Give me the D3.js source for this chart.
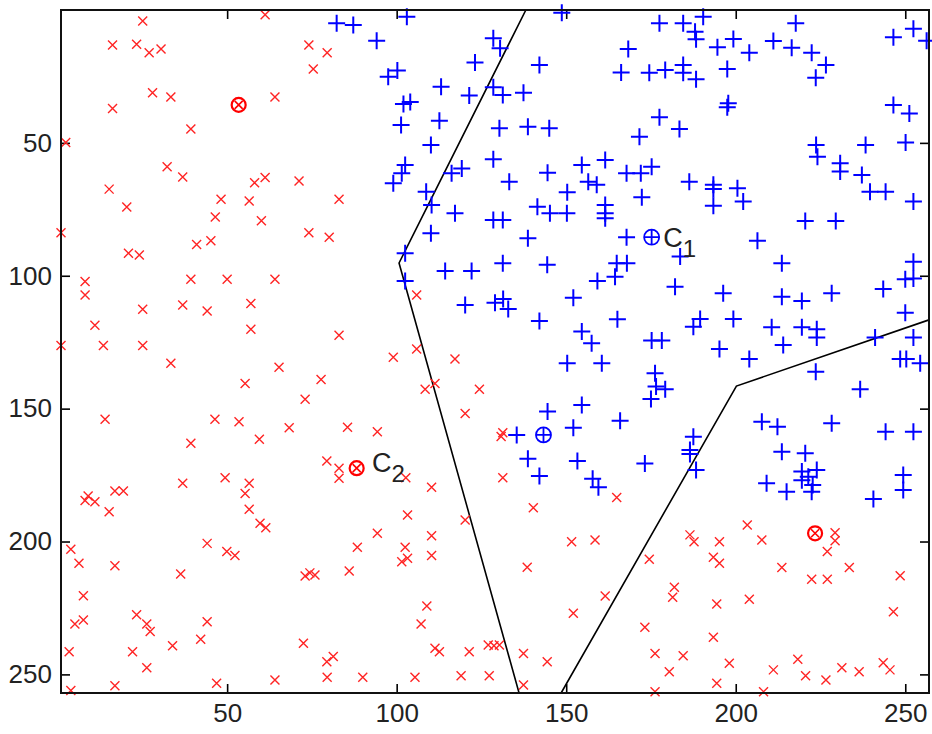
<!DOCTYPE html>
<html>
<head>
<meta charset="utf-8">
<script src="https://cdn.jsdelivr.net/npm/d3@7"></script>
<style>
  body { margin: 0; background: #fff; }
</style>
</head>
<body>
<div id="chart"></div>
<script>
// class 2 samples (red x)
const redPoints = [
  [25.1,4.1],[16.2,13.2],[23.3,12.9],[27.0,16.1],[30.5,14.7],[61.2,1.8],[74.1,13.2],[75.4,22.2],[28.0,31.1],[33.4,32.7],
  [16.2,37.1],[64.1,32.7],[39.3,44.8],[2.4,49.9],[32.3,59.0],[36.9,62.8],[15.2,67.4],[20.4,74.1],[48.2,71.2],[56.5,71.9],
  [58.1,65.0],[61.2,63.0],[71.2,64.3],[46.5,77.9],[60.1,79.3],[1.0,83.8],[74.1,83.8],[41.0,88.2],[45.2,86.8],[20.9,91.5],
  [24.1,92.2],[8.1,102.2],[8.1,107.2],[39.3,101.3],[50.0,101.3],[64.1,101.3],[25.1,112.6],[36.9,111.0],[44.1,113.3],[57.0,110.4],
  [57.0,120.1],[11.0,118.6],[1.0,126.2],[13.5,126.2],[25.1,126.2],[33.4,132.9],[65.3,134.4],[55.3,140.5],[77.7,139.0],[73.0,146.5],
  [14.0,154.0],[46.4,154.0],[53.5,154.9],[68.3,157.2],[59.5,161.5],[39.3,163.0],[36.9,178.1],[49.4,176.0],[56.5,178.1],[55.3,181.9],
  [9.0,182.9],[8.1,184.6],[11.0,185.0],[16.9,181.0],[19.4,181.0],[56.5,187.9],[59.7,193.1],[61.4,194.8],[15.2,188.8],[3.9,202.9],
  [6.3,208.2],[16.9,209.1],[7.6,220.4],[5.1,231.0],[7.6,229.5],[3.4,241.5],[3.9,256.1],[16.9,254.3],[23.3,227.6],[26.3,231.0],
  [27.3,233.9],[22.1,241.5],[26.3,247.5],[33.9,239.2],[36.3,212.2],[44.1,200.7],[49.9,203.8],[52.3,205.3],[44.1,230.2],[42.2,236.8],
  [46.9,253.3],[64.1,252.1],[72.5,238.3],[73.0,213.0],[74.4,211.8],[75.9,212.6],
  [105.9,107.2],[83.0,122.4],[99.0,130.7],[105.9,127.6],[117.2,131.3],[108.4,142.7],[111.3,140.5],[124.4,142.7],[120.2,151.8],[85.5,157.0],
  [94.3,158.7],[131.3,159.1],[130.8,160.5],[79.4,169.7],[83.0,172.4],[83.0,176.2],[102.7,176.0],[110.3,179.6],[131.3,176.0],[164.9,183.4],
  [79.5,16.1],[83.0,71.2],[80.1,85.5],
  [186.5,197.5],[187.7,200.1],[195.2,200.1],[203.4,193.8],[207.7,199.4],[174.5,206.7],[193.4,205.9],[195.2,208.2],[213.6,209.8],[222.4,214.2],
  [227.0,214.2],[227.0,203.8],[229.3,196.7],[229.3,199.7],[233.5,209.8],[248.5,212.9],[181.9,217.2],[181.4,221.0],[194.4,223.5],[204.0,221.7],
  [246.5,226.4],[173.2,232.3],[193.4,236.0],[176.2,242.1],[184.5,243.0],[180.4,249.0],[198.1,245.8],[194.4,253.3],[176.2,256.5],[208.2,256.5],
  [211.1,248.3],[218.3,244.3],[220.6,250.5],[226.6,252.1],[231.3,247.5],[236.4,249.0],[243.5,245.6],[245.5,248.3],
  [103.2,190.0],[140.3,187.3],[120.2,191.9],[94.3,196.9],[88.4,202.2],[102.5,202.2],[110.3,197.8],[110.3,205.3],[101.5,207.6],[103.2,206.3],
  [86.0,211.1],[151.6,200.1],[158.5,199.4],[138.5,209.7],[108.9,224.3],[107.2,231.0],[161.5,220.5],[152.1,227.0],[111.3,240.2],[112.6,241.5],
  [121.4,241.5],[127.0,238.9],[128.7,239.2],[130.3,238.9],[137.4,242.1],[144.4,245.2],[79.4,245.2],[81.3,243.3],[79.5,251.1],[90.0,251.1],
  [105.4,251.1],[119.0,250.5],[127.3,250.5],[137.4,254.0]
];

// class 1 samples (blue +)
const bluePoints = [
  [82.3,5.0],[87.2,5.6],[103.0,2.5],[94.1,11.6],[97.5,25.1],[100.2,22.8],[102.0,35.4],[104.0,34.6],[101.3,43.3],[112.6,41.7],
  [113.1,28.9],[121.4,32.2],[123.1,19.8],[128.5,10.6],[130.5,14.4],[128.5,29.1],[131.3,32.0],[137.4,31.1],[142.1,20.7],[148.7,1.0],
  [130.3,44.5],[138.7,43.9],[145.0,44.5],[110.1,50.8],[128.5,56.2],[102.5,58.3],[101.5,61.4],[99.0,65.2],[116.2,61.4],[119.2,59.6],
  [133.2,64.6],[144.5,61.2],[154.6,58.3],[161.5,56.4],[156.5,64.6],[159.0,65.8],[150.3,68.6],[108.7,68.4],[110.3,73.4],[117.2,76.5],
  [128.5,79.0],[131.3,79.0],[141.5,74.0],[145.2,76.5],[150.2,76.5],[161.5,73.4],[161.5,76.5],[161.5,78.4],[138.7,85.9],[110.1,84.0],
  [166.2,23.5],
  [177.5,5.0],[184.5,5.0],[190.4,2.5],[188.0,8.2],[188.3,11.0],[168.3,14.7],[194.6,14.0],[199.3,10.9],[204.0,16.1],[211.1,11.7],
  [216.5,14.2],[217.7,5.0],[222.4,16.1],[226.6,20.7],[223.6,25.5],[246.5,10.3],[252.4,7.1],[256.3,11.6],[174.5,23.6],[179.2,22.6],
  [184.5,20.7],[184.5,23.6],[188.3,26.1],[197.5,22.2],[197.8,35.1],[197.5,36.6],[246.5,35.7],[251.2,38.9],[177.5,40.4],[183.4,44.8],
  [171.6,47.7],[223.7,50.8],[224.1,55.2],[238.3,50.8],[250.1,49.9],[167.8,61.4],[172.0,61.4],[175.2,59.0],[172.3,70.5],[186.3,64.6],
  [193.4,65.8],[193.4,67.4],[193.4,73.7],[200.5,67.1],[202.2,72.1],[230.8,57.7],[230.8,60.8],[237.2,62.1],[239.6,68.4],[244.2,68.4],
  [252.4,72.1],[220.5,79.4],[229.5,79.4],[167.8,85.5],[206.4,86.8],
  [183.6,92.8],[167.9,95.3],[164.9,95.3],[213.6,95.3],[252.4,94.7],[250.0,101.3],[252.4,101.0],[182.1,104.1],[196.3,106.6],[213.6,107.9],
  [219.5,109.5],[228.3,106.6],[243.5,105.0],[250.0,113.9],[189.5,116.3],[187.5,119.2],[199.3,116.3],[210.6,119.4],[219.5,119.4],[223.9,120.1],
  [223.9,123.2],[241.1,123.2],[252.4,123.2],[175.2,124.4],[178.2,124.4],[195.2,127.6],[214.0,126.1],[204.0,131.3],[248.5,131.3],[250.3,131.3],
  [254.4,132.9],[223.6,136.1],[176.2,136.7],[176.5,141.7],[179.2,142.7],[175.0,146.4],[236.7,142.7],[165.9,154.6],[207.7,154.9],[212.3,156.8],
  [228.3,155.5],[244.2,158.7],[252.4,158.7],[187.5,160.6],[186.5,165.6],[186.5,167.1],[173.2,170.6],[188.3,173.1],[213.6,166.2],[220.5,166.8],
  [219.5,173.7],[223.9,173.1],[221.4,175.6],[219.5,176.9],[222.7,178.7],[209.1,178.1],[215.0,181.3],[222.4,181.3],[240.6,184.0],[249.4,175.0],
  [249.4,180.6],
  [102.5,91.5],[102.5,102.0],[114.3,98.2],[122.1,98.2],[131.3,95.3],[144.4,95.9],[164.4,100.4],[159.2,102.0],[120.2,111.0],[129.0,110.2],
  [131.4,108.7],[132.9,112.5],[152.1,108.3],[142.1,117.0],[165.1,116.4],[154.6,121.0],[157.5,125.4],[150.3,132.9],[160.5,132.9],[144.5,151.1],
  [154.6,148.6],[152.1,157.2],[135.4,159.9],[138.7,168.9],[142.1,175.3],[153.3,169.7],[157.8,176.4],[159.5,179.6]
];

// cluster centres
const redCentres = [[53.4,35.7],[88.2,172.4],[223.4,196.9]];
const blueCentres = [[175.2,85.5],[143.3,159.9]];

// decision boundaries
const boundaryA = [[138.1,0],[100.7,95.2],[136.1,257]];
const boundaryB = [[148.5,257],[200.2,141.5],[257,116.6]];

// centre labels
const labelText = ['C', 'C'];
const labelSub = ['1', '2'];
const labelPos = [[178.6,85.4],[92.7,170.0]];

const xTicks = [50, 100, 150, 200, 250];
const yTicks = [50, 100, 150, 200, 250];

const W = 932, H = 734;
const svg = d3.select('#chart').append('svg')
    .attr('width', W)
    .attr('height', H);

const x = d3.scaleLinear().domain([1, 257]).range([61, 929]);
const y = d3.scaleLinear().domain([0, 257]).range([10, 693]);

const font = 'Liberation Sans, Arial, Helvetica, sans-serif';

// axes, ticks pointing inward
function styleAxis(g) {
    g.select('.domain').remove();
    g.selectAll('.tick line').attr('stroke', '#000').attr('stroke-width', 1.6);
    g.selectAll('.tick text')
        .attr('fill', '#222')
        .attr('font-size', 26)
        .attr('font-family', font);
}

svg.append('g')
    .attr('transform', `translate(0,${y(257)})`)
    .call(d3.axisBottom(x).tickValues(xTicks).tickSize(-9).tickPadding(11))
    .call(styleAxis);
svg.append('g')
    .attr('transform', `translate(0,${y(0)})`)
    .call(d3.axisTop(x).tickValues(xTicks).tickSize(-9).tickFormat(''))
    .call(styleAxis);
svg.append('g')
    .attr('transform', `translate(${x(1)},0)`)
    .call(d3.axisLeft(y).tickValues(yTicks).tickSize(-9).tickPadding(9))
    .call(styleAxis);
svg.append('g')
    .attr('transform', `translate(${x(257)},0)`)
    .call(d3.axisRight(y).tickValues(yTicks).tickSize(-9).tickFormat(''))
    .call(styleAxis);

// boundaries
const line = d3.line().x(d => x(d[0])).y(d => y(d[1]));
[boundaryA, boundaryB].forEach(b => {
    svg.append('path')
        .attr('d', line(b))
        .attr('fill', 'none')
        .attr('stroke', '#000')
        .attr('stroke-width', 1.6);
});

// red x markers
svg.append('g')
    .selectAll('path')
    .data(redPoints)
    .enter()
    .append('path')
    .attr('transform', d => `translate(${x(d[0])},${y(d[1])})`)
    .attr('d', 'M-4.5,-4.5L4.5,4.5M-4.5,4.5L4.5,-4.5')
    .attr('stroke', '#ff2424')
    .attr('stroke-width', 1.4)
    .attr('fill', 'none');

// blue + markers
svg.append('g')
    .selectAll('path')
    .data(bluePoints)
    .enter()
    .append('path')
    .attr('transform', d => `translate(${x(d[0])},${y(d[1])})`)
    .attr('d', 'M-8.5,0H8.5M0,-8.5V8.5')
    .attr('stroke', '#0000ff')
    .attr('stroke-width', 2)
    .attr('fill', 'none');

// centres
const rc = svg.append('g').selectAll('g').data(redCentres).enter().append('g')
    .attr('transform', d => `translate(${x(d[0])},${y(d[1])})`);
rc.append('circle').attr('r', 7).attr('fill', 'none').attr('stroke', '#ff0000').attr('stroke-width', 2.2);
rc.append('path').attr('d', 'M-4,-4L4,4M-4,4L4,-4').attr('stroke', '#ff0000').attr('stroke-width', 1.6);

const bc = svg.append('g').selectAll('g').data(blueCentres).enter().append('g')
    .attr('transform', d => `translate(${x(d[0])},${y(d[1])})`);
bc.append('circle').attr('r', 7.5).attr('fill', 'none').attr('stroke', '#0000ff').attr('stroke-width', 1.8);
bc.append('path').attr('d', 'M-7.5,0H7.5M0,-7.5V7.5').attr('stroke', '#0000ff').attr('stroke-width', 1.8);

// C1 / C2 labels
labelPos.forEach((p, i) => {
    const t = svg.append('text')
        .attr('x', x(p[0]))
        .attr('y', y(p[1]))
        .attr('dy', '0.36em')
        .attr('font-size', 27)
        .attr('font-family', font)
        .attr('fill', '#222')
        .text(labelText[i]);
    t.append('tspan')
        .attr('font-size', 24)
        .attr('dy', 10)
        .text(labelSub[i]);
});

// box
svg.append('rect')
    .attr('x', x(1))
    .attr('y', y(0))
    .attr('width', x(257) - x(1))
    .attr('height', y(257) - y(0))
    .attr('fill', 'none')
    .attr('stroke', '#111')
    .attr('stroke-width', 2);
</script>
</body>
</html>
